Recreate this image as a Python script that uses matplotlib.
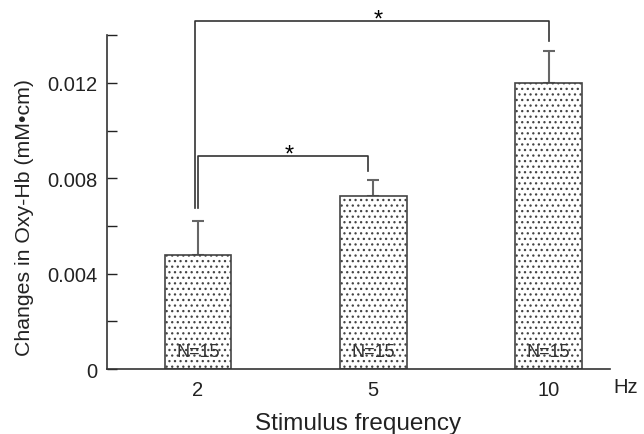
import matplotlib.pyplot as plt
import matplotlib as mpl

# data
categories = ["2", "5", "10"]
means = [0.00477, 0.00724, 0.0120]
errors = [0.00142, 0.00068, 0.00135]
n_labels = ["N=15", "N=15", "N=15"]

plt.rcParams["font.family"] = ["Liberation Sans", "DejaVu Sans"]
mpl.rcParams["hatch.linewidth"] = 0.9
mpl.rcParams["hatch.color"] = "#000000"

fig = plt.figure(figsize=(6.44, 4.35), dpi=100)
ax = fig.add_axes([0.166, 0.149, 0.781, 0.768])

x = list(range(len(categories)))
ax.bar(x, means, width=0.38, color="white", edgecolor="#444444",
       linewidth=1.2, hatch="...", zorder=2)
ax.errorbar(x, means, yerr=[[0] * 3, errors], fmt="none", ecolor="#666666",
            elinewidth=1.5, capsize=4, capthick=1.5, zorder=1)

for xi, lab in zip(x, n_labels):
    ax.text(xi, 0.00075, lab, ha="center", va="center", fontsize=13,
            color="#333333", zorder=3)

ax.set_xlim(-0.52, 2.35)
ax.set_ylim(0, 0.014)
ax.set_yticks([0, 0.002, 0.004, 0.006, 0.008, 0.010, 0.012, 0.014])
ax.set_yticklabels(["0", "", "0.004", "", "0.008", "", "0.012", ""])
ax.set_xticks(x)
ax.set_xticklabels(categories)
ax.tick_params(axis="y", direction="in", length=7, width=1, pad=7,
               labelsize=14.5, colors="#222222")
ax.tick_params(axis="x", length=0, pad=8, labelsize=14.5, colors="#222222")
ax.spines["top"].set_visible(False)
ax.spines["right"].set_visible(False)
for s in ("left", "bottom"):
    ax.spines[s].set_color("#333333")
    ax.spines[s].set_linewidth(1.2)

ax.set_ylabel("Changes in Oxy-Hb (mM\u2022cm)", fontsize=15.3, color="#222222")
ax.yaxis.set_label_coords(-0.145, 0.458)
ax.set_xlabel("Stimulus frequency", fontsize=17.5, labelpad=9, color="#222222")
ax.text(2.44, -0.00072, "Hz", ha="center", va="center", fontsize=14.5,
        color="#222222", clip_on=False)

# significance brackets
lc = "#333333"
tops = [m + e for m, e in zip(means, errors)]
# 2 vs 10
ax.plot([-0.02, -0.02, 2.0, 2.0], [tops[0] + 0.00055, 0.0146, 0.0146, tops[2] + 0.0004],
        color=lc, lw=1.2, clip_on=False)
ax.text(1.03, 0.01467, "*", ha="center", va="center", fontsize=17, clip_on=False)
# 2 vs 5
ax.plot([0.0, 0.0, 0.97, 0.97], [tops[0] + 0.00055, 0.00895, 0.00895, tops[1] + 0.0004],
        color=lc, lw=1.2)
ax.text(0.52, 0.0090, "*", ha="center", va="center", fontsize=17)

fig.savefig("out.png", dpi=100)
